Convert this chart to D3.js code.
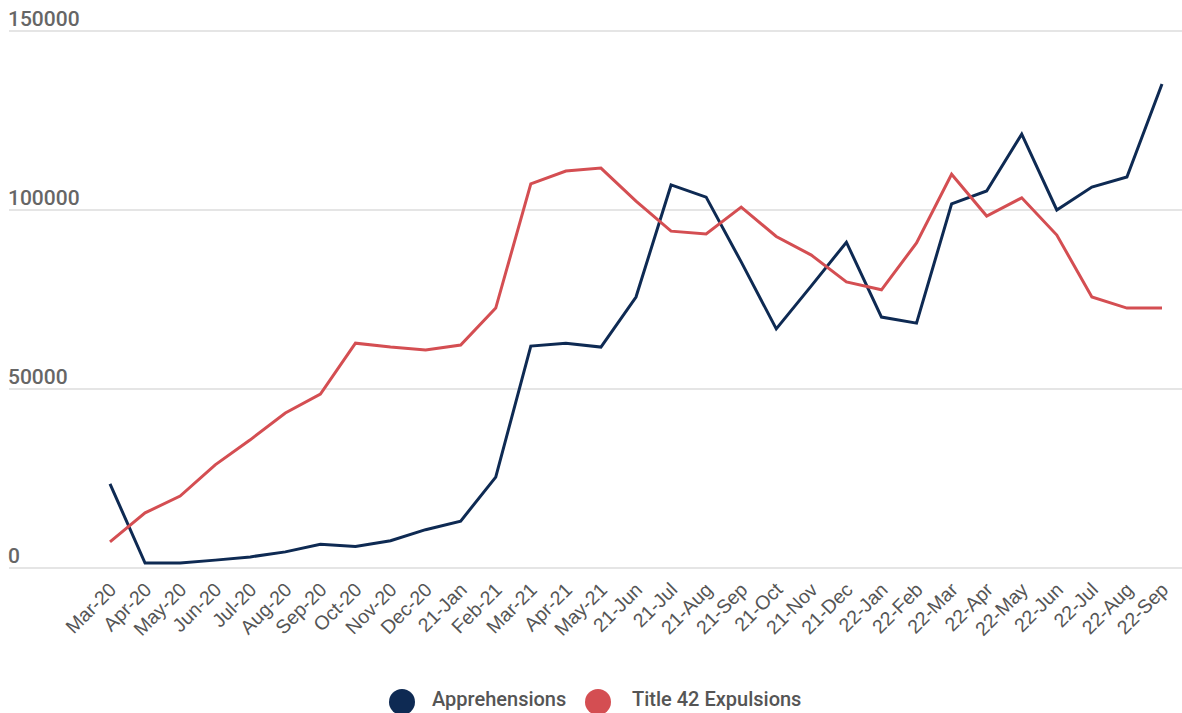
<!DOCTYPE html>
<html>
<head>
<meta charset="utf-8">
<script src="https://cdn.jsdelivr.net/npm/d3@7"></script>
<style>
  body { margin: 0; background: #fff; }
  svg { font-family: Roboto, "Noto Sans", sans-serif; }
</style>
</head>
<body>
<div id="chart"></div>
<script>
var months = ["Mar-20", "Apr-20", "May-20", "Jun-20", "Jul-20", "Aug-20", "Sep-20", "Oct-20",
    "Nov-20", "Dec-20", "21-Jan", "Feb-21", "Mar-21", "Apr-21", "May-21", "21-Jun", "21-Jul",
    "21-Aug", "21-Sep", "21-Oct", "21-Nov", "21-Dec", "22-Jan", "22-Feb", "22-Mar", "22-Apr",
    "22-May", "22-Jun", "22-Jul", "22-Aug", "22-Sep"];

var apprehensions = [23500, 1400, 1400, 2200, 3100, 4500, 6600, 6000, 7600, 10700, 13100,
    25400, 62000, 62800, 61700, 75700, 107000, 103600, 85500, 66800, 78800, 91000, 70100,
    68400, 101700, 105300, 121200, 100000, 106400, 109200, 135200];

var expulsions = [7300, 15400, 20100, 28800, 35800, 43300, 48600, 62800, 61700, 60900, 62300,
    72600, 107300, 110900, 111700, 102500, 94100, 93300, 100800, 92600, 87400, 79900, 77700,
    90800, 110000, 98300, 103400, 93000, 75700, 72600, 72600];

var yTicks = [0, 50000, 100000, 150000];

var series = [
    {name: "Apprehensions", values: apprehensions, color: "#0e2a53"},
    {name: "Title 42 Expulsions", values: expulsions, color: "#d44e52"}
];

var width = 1182, height = 713;
var svg = d3.select('#chart').append('svg')
    .attr('width', width)
    .attr('height', height);

var x = d3.scalePoint()
    .domain(months)
    .range([110, 1162]);

var y = d3.scaleLinear()
    .domain([0, 150000])
    .range([568, 31]);

// Gridlines with labels sitting above them
var grid = svg.append('g').classed('grid', true);
grid.selectAll('line')
    .data(yTicks)
    .enter()
    .append('line')
    .attr('x1', 9)
    .attr('x2', width)
    .attr('y1', function(d) { return y(d); })
    .attr('y2', function(d) { return y(d); })
    .attr('stroke', '#dcdcdc')
    .attr('stroke-width', 1.5);

grid.selectAll('text')
    .data(yTicks)
    .enter()
    .append('text')
    .attr('x', 8)
    .attr('y', function(d) { return y(d) - 5; })
    .attr('fill', '#666')
    .attr('font-size', 21)
    .attr('font-weight', 500)
    .text(function(d) { return d; });

// X axis labels, rotated
var xAxis = d3.axisBottom(x).tickSize(0).tickPadding(0);
var xg = svg.append('g')
    .classed('x axis', true)
    .attr('transform', 'translate(0,' + 572 + ')')
    .call(xAxis);
xg.select('.domain').remove();
xg.selectAll('text')
    .style('text-anchor', 'end')
    .attr('fill', '#555')
    .attr('font-size', 19.5)
    .attr('font-weight', 500)
    .attr('y', 0)
    .attr('dy', 0)
    .attr('transform', 'translate(7,19) rotate(-45)');

// Lines
var line = d3.line()
    .x(function(d, i) { return x(months[i]); })
    .y(function(d) { return y(d); });

svg.selectAll('path.series')
    .data(series)
    .enter()
    .append('path')
    .classed('series', true)
    .attr('fill', 'none')
    .attr('stroke', function(d) { return d.color; })
    .attr('stroke-width', 3)
    .attr('stroke-linejoin', 'miter')
    .attr('d', function(d) { return line(d.values); });

// Legend
var legend = svg.append('g').classed('legend', true);
var legendX = [402, 598];
var items = legend.selectAll('g')
    .data(series)
    .enter()
    .append('g')
    .attr('transform', function(d, i) { return 'translate(' + legendX[i] + ',702)'; });
items.append('circle')
    .attr('r', 13)
    .attr('fill', function(d) { return d.color; });
items.append('text')
    .attr('x', function(d, i) { return i === 0 ? 30 : 34; })
    .attr('y', 4)
    .attr('fill', '#555')
    .attr('font-size', 20)
    .attr('font-weight', 500)
    .text(function(d) { return d.name; });
</script>
</body>
</html>
